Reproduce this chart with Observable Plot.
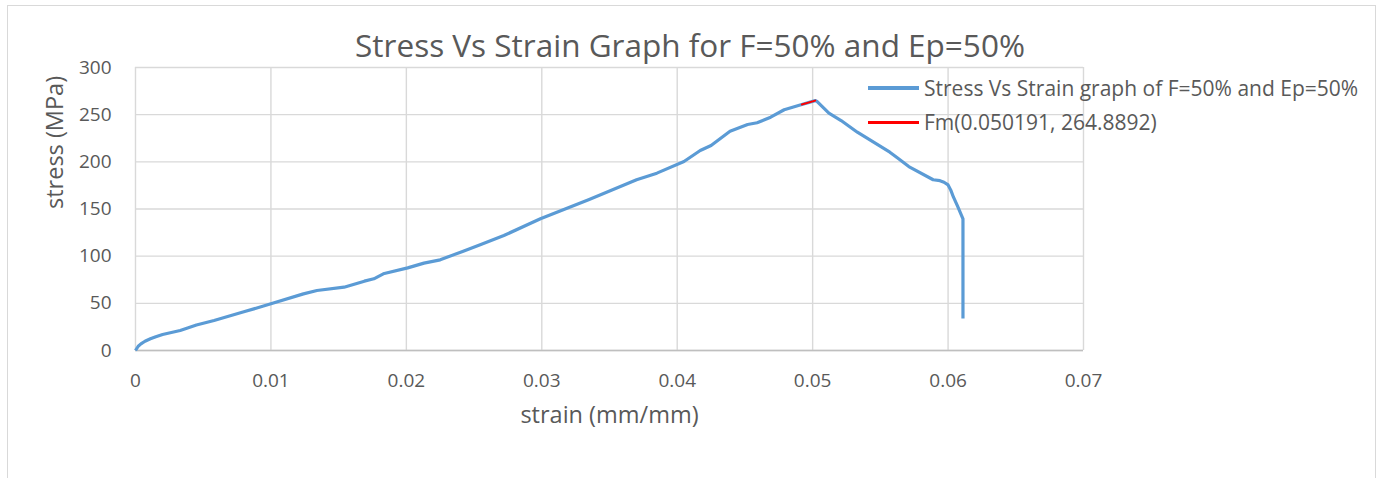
<!DOCTYPE html>
<html>
<head>
<meta charset="utf-8">
<script src="https://cdn.jsdelivr.net/npm/d3@7"></script>
<script src="https://cdn.jsdelivr.net/npm/@observablehq/plot@0.6"></script>
<style>
  html, body { margin: 0; padding: 0; background: #fff; overflow: hidden; }
  #wrap { position: relative; width: 1382px; height: 478px; font-family: "Open Sans", Lato, sans-serif; color: #595959; }
  #frame { position: absolute; left: 7px; top: 5px; width: 1369px; height: 600px; border: 1px solid #d9d9d9; box-sizing: border-box; }
  #chart { position: absolute; left: 0; top: 0; }
  #title { position: absolute; left: 0; width: 1380px; top: 25px; text-align: center; font-size: 31.5px; line-height: 40px; white-space: nowrap; }
  #legend { position: absolute; left: 868px; top: 71px; font-size: 21px; white-space: nowrap; }
  .row { display: flex; align-items: center; height: 34px; }
  .swatch { width: 51px; margin-right: 5px; }
</style>
</head>
<body>
<div id="wrap">
  <div id="frame"></div>
  <div id="chart"></div>
  <div id="title">Stress Vs Strain Graph for F=50% and Ep=50%</div>
  <div id="legend"></div>
</div>
<script>
// Tensile test curve: strain (mm/mm) vs stress (MPa)
const strain = [0, 0.0002, 0.0004, 0.0007, 0.0011, 0.0015, 0.0020, 0.0033, 0.0045, 0.0058,
  0.0080, 0.0100, 0.0124, 0.0134, 0.0154, 0.0169, 0.0176, 0.0183, 0.0201, 0.0213,
  0.0225, 0.0242, 0.0255, 0.0272, 0.0299, 0.0335, 0.0370, 0.0385, 0.0405, 0.0417,
  0.0425, 0.0439, 0.0452, 0.0459, 0.0469, 0.0479, 0.0492, 0.050191, 0.0503, 0.0512,
  0.0521, 0.0533, 0.0557, 0.0562, 0.0571, 0.0589, 0.0594, 0.0597, 0.0600, 0.0602,
  0.0604, 0.0607, 0.0611, 0.0611, 0.0611];
const stress = [0, 4.5, 7, 9.8, 12.4, 14.6, 17, 21.2, 27, 31.8,
  41, 49.5, 60, 63.6, 67.1, 73.5, 76, 81.3, 87.6, 92.6,
  96.1, 105.3, 112.4, 121.9, 139.6, 160, 181, 188, 200.3, 212,
  217.3, 232.5, 239.6, 241.4, 247.3, 255.2, 260.8, 264.8892, 264.3, 251.6,
  243.8, 231.4, 210.2, 204.9, 195, 181, 180, 178.4, 175.5, 170,
  162.5, 153, 139.6, 76, 34];

// Segment marking the maximum force point Fm
const fmStrain = [0.0492, 0.050191];
const fmStress = [260.8, 264.8892];

const xTicks = [0, 0.01, 0.02, 0.03, 0.04, 0.05, 0.06, 0.07];
const xTickLabels = ["0", "0.01", "0.02", "0.03", "0.04", "0.05", "0.06", "0.07"];
const yTicks = [0, 50, 100, 150, 200, 250, 300];
const yTickLabels = ["0", "50", "100", "150", "200", "250", "300"];

const seriesNames = ["Stress Vs Strain graph of F=50% and Ep=50%", "Fm(0.050191, 264.8892)"];
const seriesColors = ["#5b9bd5", "#ff0000"];

const curve = strain.map((s, i) => ({strain: s, stress: stress[i]}));
const fm = fmStrain.map((s, i) => ({strain: s, stress: fmStress[i]}));

const font = "'Open Sans', Lato, sans-serif";
const grey = "#595959";

const chart = Plot.plot({
  width: 1382,
  height: 478,
  marginLeft: 135,
  marginRight: 299,
  marginTop: 67,
  marginBottom: 128,
  style: {fontFamily: font, color: grey, background: "transparent", overflow: "visible"},
  x: {domain: [0, 0.07]},
  y: {domain: [0, 300]},
  marks: [
    Plot.gridX(xTicks, {stroke: "#d9d9d9", strokeOpacity: 1, strokeWidth: 1.4}),
    Plot.gridY(yTicks, {stroke: "#d9d9d9", strokeOpacity: 1, strokeWidth: 1.4}),
    Plot.ruleY([0], {stroke: "#bfbfbf", strokeWidth: 1.6}),
    Plot.axisX(xTicks, {tickSize: 0, tickPadding: 23, fontSize: 19, fill: grey, label: null,
      tickFormat: (d, i) => xTickLabels[i]}),
    Plot.axisY(yTicks, {tickSize: 0, tickPadding: 24, fontSize: 19, fill: grey, label: null,
      tickFormat: (d, i) => yTickLabels[i]}),
    Plot.line(curve, {x: "strain", y: "stress", stroke: seriesColors[0], strokeWidth: 3.2,
      strokeLinejoin: "round", strokeLinecap: "butt"}),
    Plot.line(fm, {x: "strain", y: "stress", stroke: seriesColors[1], strokeWidth: 2}),
    Plot.text(["strain (mm/mm)"], {frameAnchor: "bottom", dy: 72, fontSize: 23.5, fill: grey}),
    Plot.text(["stress (MPa)"], {frameAnchor: "left", dx: -80, rotate: -90, fontSize: 23.5, fill: grey})
  ]
});
document.getElementById("chart").appendChild(chart);

// Legend rows: line swatch followed by the series name
const legend = document.getElementById("legend");
seriesNames.forEach((name, i) => {
  const row = document.createElement("div");
  row.className = "row";
  const sw = document.createElement("div");
  sw.className = "swatch";
  sw.style.borderTop = (i === 0 ? 4 : 3) + "px solid " + seriesColors[i];
  const label = document.createElement("span");
  label.textContent = name;
  row.appendChild(sw);
  row.appendChild(label);
  legend.appendChild(row);
});
</script>
</body>
</html>
